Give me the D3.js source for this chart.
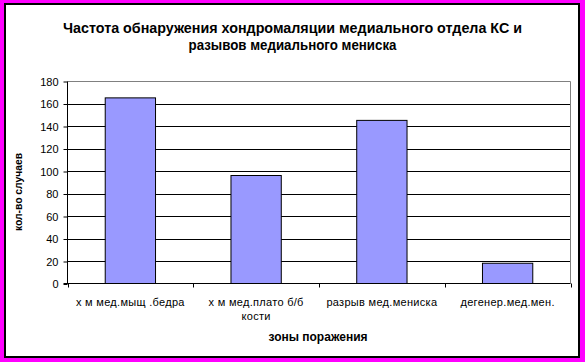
<!DOCTYPE html>
<html><head><meta charset="utf-8">
<script src="https://cdn.jsdelivr.net/npm/d3@7"></script>
<style>
html,body{margin:0;padding:0;background:#ff00ff;}
svg{display:block;}
text{font-family:Arial,"Liberation Sans",sans-serif;}
</style></head>
<body>
<script>
const categories = [["х м мед.мыщ .бедра"], ["х м мед.плато б/б", "кости"], ["разрыв мед.мениска"], ["дегенер.мед.мен."]];
const values = [165, 96, 145, 18];
const yTicks = [0, 20, 40, 60, 80, 100, 120, 140, 160, 180];
const titleLines = ["Частота обнаружения хондромаляции медиального отдела КС и", "разывов медиального мениска"];
const xTitle = "зоны поражения";
const yTitle = "кол-во случаев";

const W = 585, H = 362;
const svg = d3.select("body").append("svg").attr("width", W).attr("height", H);
svg.append("rect").attr("width", W).attr("height", H).attr("fill", "#ff00ff");
svg.append("rect").attr("x", 5).attr("y", 4).attr("width", 574).attr("height", 353)
  .attr("fill", "#fff").attr("stroke", "#000").attr("stroke-width", 2);

const L = 67.5, R = 570.5, T = 81, B = 283.5;
const x = d3.scaleBand().domain(d3.range(categories.length)).range([L, R]).paddingInner(0).paddingOuter(0);
const y = d3.scaleLinear().domain([0, 180]).range([B, T]);

// grid
svg.append("g").selectAll("line").data(yTicks.filter(d => d > 0 && d < 180)).join("line")
  .attr("x1", L).attr("x2", R).attr("y1", d => Math.round(y(d)) + 0.5).attr("y2", d => Math.round(y(d)) + 0.5)
  .attr("stroke", "#000").attr("stroke-width", 1);
// plot border top/right grey
svg.append("path").attr("d", `M${L},${Math.round(T)+0.5}H${R}V${B}`).attr("fill", "none").attr("stroke", "#808080");

// bars
const bw = x.bandwidth() * 0.4;
svg.append("g").selectAll("rect").data(values).join("rect")
  .attr("x", (d, i) => x(i) + x.bandwidth() * 0.3)
  .attr("y", d => y(d))
  .attr("width", bw)
  .attr("height", d => B - y(d))
  .attr("fill", "#9999ff").attr("stroke", "#000").attr("stroke-width", 1);

// y axis
const yAxis = d3.axisLeft(y).tickValues(yTicks).tickSize(4).tickPadding(5).tickFormat(d3.format("d"));
const gy = svg.append("g").attr("transform", `translate(${L},0.5)`).call(yAxis);
gy.select(".domain").attr("d", `M0,${T}V${B}`).attr("stroke", "#000");
gy.selectAll("text").attr("font-size", 11).attr("font-family", "Arial, 'Liberation Sans', sans-serif").attr("fill", "#000");
gy.selectAll(".tick line").attr("stroke", "#000");

// x axis
const gx = svg.append("g").attr("transform", `translate(0,${B})`);
gx.append("line").attr("x1", L - 4).attr("x2", R).attr("y1", 0).attr("y2", 0).attr("stroke", "#000");
gx.selectAll(".tk").data(d3.range(categories.length + 1)).join("line")
  .attr("x1", i => Math.round(i < categories.length ? x(i) : R) + 0.5)
  .attr("x2", i => Math.round(i < categories.length ? x(i) : R) + 0.5)
  .attr("y1", 0).attr("y2", 4).attr("stroke", "#000");
gx.selectAll(".lbl").data(categories).join("text")
  .attr("x", (d, i) => x(i) + x.bandwidth() / 2)
  .attr("text-anchor", "middle").attr("font-size", 11).attr("fill", "#000")
  .attr("letter-spacing", 0.3)
  .each(function(d) {
    d3.select(this).selectAll("tspan").data(d).join("tspan")
      .attr("x", d3.select(this).attr("x")).attr("y", (t, j) => 22 + j * 14).text(t => t);
  });

// titles
const titleW = [459, 208];
svg.append("g").selectAll("text").data(titleLines).join("text")
  .attr("x", 292.5).attr("y", (d, i) => 33 + i * 16.5)
  .attr("text-anchor", "middle").attr("font-size", 14.5).attr("font-weight", "bold")
  .attr("textLength", (d, i) => titleW[i]).attr("lengthAdjust", "spacingAndGlyphs")
  .text(d => d);
svg.append("text").attr("x", 318).attr("y", 341).attr("text-anchor", "middle")
  .attr("font-size", 12).attr("font-weight", "bold").text(xTitle);
svg.append("text").attr("transform", "translate(22,192) rotate(-90)").attr("text-anchor", "middle")
  .attr("font-size", 10).attr("font-weight", "bold")
  .attr("textLength", 78).attr("lengthAdjust", "spacingAndGlyphs").text(yTitle);
</script>
</body></html>
